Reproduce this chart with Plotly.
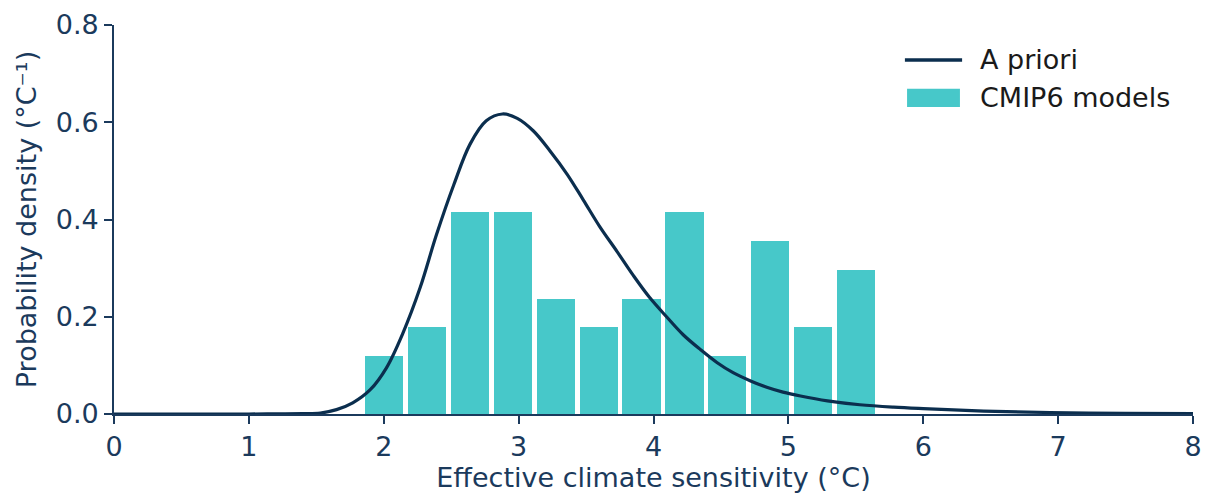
import plotly.graph_objects as go

# --- data ---
bin_edges = [1.845, 2.163, 2.481, 2.799, 3.117, 3.435, 3.752, 4.070, 4.388, 4.706, 5.024, 5.342, 5.660]
cmip6_density = [0.119, 0.178, 0.415, 0.415, 0.237, 0.178, 0.237, 0.415, 0.119, 0.356, 0.178, 0.297]

prior_x = [0.0, 0.5, 1.0, 1.2, 1.4, 1.53, 1.65, 1.77, 1.90, 2.02, 2.14, 2.27, 2.39, 2.52, 2.64,
           2.76, 2.88, 2.99, 3.11, 3.23, 3.36, 3.48, 3.60, 3.73, 3.85, 3.97, 4.10, 4.22, 4.35,
           4.47, 4.59, 4.72, 4.84, 4.96, 5.09, 5.29, 5.53, 5.78, 6.0, 6.45, 6.94, 7.5, 8.0]
prior_y = [0.0, 0.0, 0.0, 0.0003, 0.0009, 0.002, 0.009, 0.023, 0.050, 0.095, 0.165, 0.260, 0.368,
           0.472, 0.555, 0.603, 0.617, 0.608, 0.582, 0.542, 0.493, 0.440, 0.386, 0.334, 0.285,
           0.240, 0.199, 0.163, 0.132, 0.106, 0.085, 0.068, 0.055, 0.045, 0.037, 0.027, 0.019,
           0.014, 0.011, 0.006, 0.003, 0.0015, 0.0007]

x_ticks = [0, 1, 2, 3, 4, 5, 6, 7, 8]
y_ticks = [0.0, 0.2, 0.4, 0.6, 0.8]

# --- styling ---
NAVY = "#0b2e4e"
TEXT = "#1b3a5c"
TEAL = "#47c8c9"
FONT = "DejaVu Sans"

centers = [(bin_edges[i] + bin_edges[i + 1]) / 2 for i in range(len(cmip6_density))]
widths = [(bin_edges[i + 1] - bin_edges[i]) * 0.893 for i in range(len(cmip6_density))]

fig = go.Figure()
fig.add_trace(go.Bar(x=centers, y=cmip6_density, width=widths, name="CMIP6 models",
                     marker=dict(color=TEAL, line=dict(width=0)), showlegend=False))
fig.add_trace(go.Scatter(x=prior_x, y=prior_y, mode="lines", name="A priori",
                         line=dict(color=NAVY, width=3.2, shape="spline", smoothing=1.0),
                         showlegend=False))

# custom legend (matplotlib-like long handles)
fig.add_shape(type="line", xref="paper", yref="paper", x0=0.733, x1=0.786, y0=0.910, y1=0.910,
              line=dict(color=NAVY, width=3.5))
fig.add_shape(type="rect", xref="paper", yref="paper", x0=0.735, x1=0.784, y0=0.789, y1=0.836,
              fillcolor=TEAL, line=dict(width=0))
fig.add_annotation(xref="paper", yref="paper", x=0.801, y=0.912, text="A priori", showarrow=False,
                   xanchor="left", yanchor="middle", font=dict(family=FONT, size=27, color="#1a1a1a"))
fig.add_annotation(xref="paper", yref="paper", x=0.801, y=0.814, text="CMIP6 models", showarrow=False,
                   xanchor="left", yanchor="middle", font=dict(family=FONT, size=27, color="#1a1a1a"))

fig.update_layout(
    width=1205, height=493,
    margin=dict(l=114, r=12, t=25, b=79),
    plot_bgcolor="white", paper_bgcolor="white",
    font=dict(family=FONT, size=27, color=TEXT),
    bargap=0,
)
fig.update_xaxes(range=[0, 8], tickvals=x_ticks, ticktext=[str(v) for v in x_ticks],
                 automargin=False, tickfont=dict(size=27),
                 showgrid=False, zeroline=False, showline=True, linecolor=TEXT, linewidth=1.8,
                 ticks="outside", ticklen=8, tickwidth=1.8, tickcolor=TEXT,
                 title=dict(text="Effective climate sensitivity (°C)", standoff=8,
                            font=dict(size=27)))
fig.update_yaxes(range=[0, 0.8], tickvals=y_ticks, ticktext=[f"{v:.1f}" for v in y_ticks],
                 automargin=False, tickfont=dict(size=27),
                 showgrid=False, zeroline=False, showline=True, linecolor=TEXT, linewidth=1.8,
                 ticks="outside", ticklen=8, tickwidth=1.8, tickcolor=TEXT,
                 title=dict(text="Probability density (°C⁻¹)", standoff=11,
                            font=dict(size=27)))

fig.write_html("out.html")
